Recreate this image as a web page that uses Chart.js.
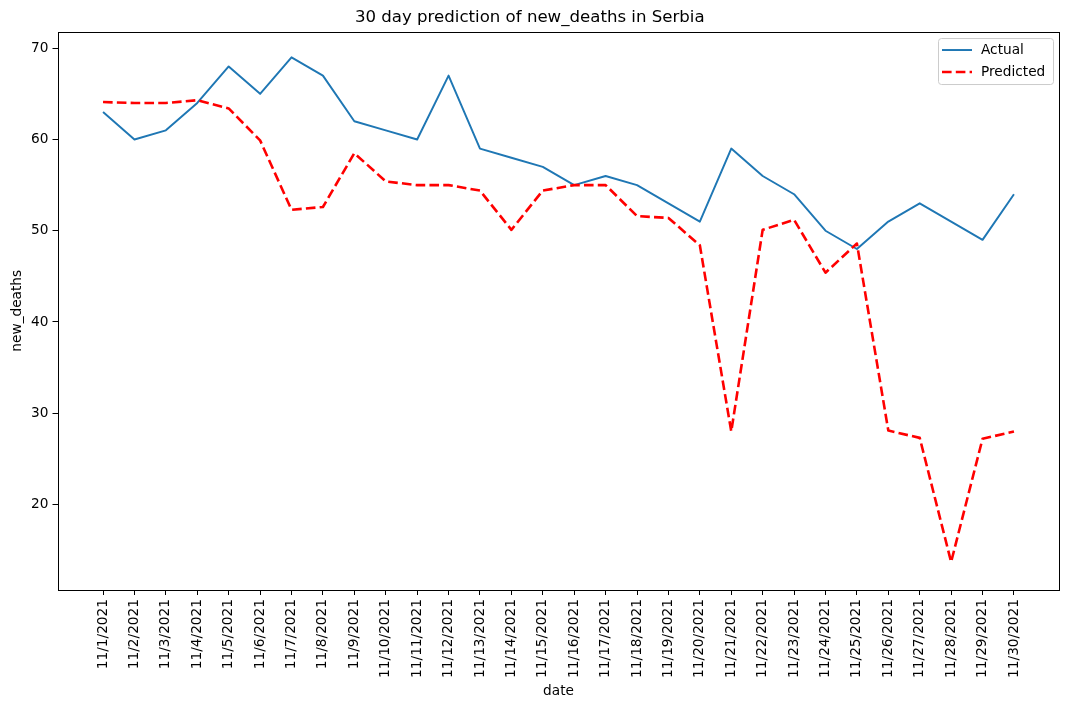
<!DOCTYPE html>
<html><head><meta charset="utf-8">
<script src="https://cdn.jsdelivr.net/npm/chart.js@4.4.1/dist/chart.umd.min.js"></script>
<style>html,body{margin:0;padding:0;background:#fff;}#wrap{width:1070px;height:709px;}</style>
</head><body><div id="wrap"><canvas id="c" style="width:1070px;height:709px"></canvas></div>
<script>
const dates = ["11/1/2021","11/2/2021","11/3/2021","11/4/2021","11/5/2021","11/6/2021","11/7/2021","11/8/2021","11/9/2021","11/10/2021",
  "11/11/2021","11/12/2021","11/13/2021","11/14/2021","11/15/2021","11/16/2021","11/17/2021","11/18/2021","11/19/2021","11/20/2021",
  "11/21/2021","11/22/2021","11/23/2021","11/24/2021","11/25/2021","11/26/2021","11/27/2021","11/28/2021","11/29/2021","11/30/2021"];
const actual = [63,60,61,64,68,65,69,67,62,61,60,67,59,58,57,55,56,55,53,51,59,56,54,50,48,51,53,51,49,54];
const predicted = [64.1,64.0,64.0,64.3,63.4,59.9,52.3,52.6,58.5,55.4,55.0,55.0,54.4,50.1,54.4,55.0,55.0,51.6,51.4,48.4,28.0,50.1,51.2,45.4,48.6,28.1,27.3,13.7,27.2,28.0];
const yTicks = [20,30,40,50,60,70];
const titleText = "30 day prediction of new_deaths in Serbia";
const xLabel = "date";
const yLabel = "new_deaths";

const FONT = "'DejaVu Sans', sans-serif";
const SMALL = 13.7;
const BIG = 16.6;

const framePlugin = {
  id: 'frame',
  afterDatasetsDraw(chart) {
    const {ctx, chartArea: a} = chart;
    ctx.save();
    ctx.strokeStyle = '#000';
    ctx.lineWidth = 1;
    ctx.setLineDash([]);
    ctx.strokeRect(Math.round(a.left) + 0.5, Math.round(a.top) + 0.5, Math.round(a.right - a.left) - 1, Math.round(a.bottom - a.top));
    ctx.restore();
  }
};

const legendPlugin = {
  id: 'mplLegend',
  afterDraw(chart) {
    const {ctx, chartArea: a} = chart;
    const w = 115, h = 46;
    const x = a.right - 6.5 - w, y = a.top + 6.5;
    ctx.save();
    ctx.fillStyle = 'rgba(255,255,255,0.8)';
    ctx.strokeStyle = '#cccccc';
    ctx.lineWidth = 1;
    ctx.beginPath();
    ctx.roundRect(x + 0.5, y + 0.5, w, h, 3);
    ctx.fill();
    ctx.stroke();
    ctx.font = SMALL + "px " + FONT;
    ctx.textBaseline = 'middle';
    ctx.fillStyle = '#000';
    chart.data.datasets.forEach((ds, i) => {
      const cy = y + 12 + i * 22;
      ctx.strokeStyle = ds.borderColor;
      ctx.lineWidth = ds.borderWidth;
      ctx.setLineDash(ds.borderDash || []);
      ctx.beginPath();
      ctx.moveTo(x + 4, cy);
      ctx.lineTo(x + 34, cy);
      ctx.stroke();
      ctx.setLineDash([]);
      ctx.fillText(ds.label, x + 43, cy);
    });
    ctx.restore();
  }
};

new Chart(document.getElementById('c'), {
  type: 'line',
  data: {
    datasets: [
      {label: 'Actual', data: actual.map((v, i) => ({x: i, y: v})), borderColor: '#1f77b4', borderWidth: 1.95,
       pointRadius: 0, tension: 0, fill: false, order: 1, borderJoinStyle: 'round'},
      {label: 'Predicted', data: predicted.map((v, i) => ({x: i, y: v})), borderColor: '#ff0000', borderWidth: 2.6,
       borderDash: [9.6, 4.2], pointRadius: 0, tension: 0, fill: false, order: 0, borderJoinStyle: 'round'}
    ]
  },
  options: {
    responsive: false,
    animation: false,
    layout: {padding: {left: 0, right: 10.5, top: 0, bottom: 0}},
    plugins: {
      legend: {display: false},
      tooltip: {enabled: false},
      title: {display: true, text: titleText, color: '#000',
        font: {family: FONT, size: BIG, weight: 'normal'}, padding: {top: 8, bottom: 3.6}}
    },
    scales: {
      x: {
        type: 'linear', min: -1.45, max: 30.45,
        afterBuildTicks: (s) => { s.ticks = dates.map((_, i) => ({value: i})); },
        afterFit: (s) => { s.height = 119; },
        border: {display: false},
        grid: {drawOnChartArea: false, drawTicks: true, tickLength: 5, color: '#000', lineWidth: 1},
        ticks: {autoSkip: false, minRotation: 90, maxRotation: 90, padding: 4, color: '#000',
          font: {family: FONT, size: SMALL}, callback: (v) => dates[v]},
        title: {display: true, text: xLabel, color: '#000', font: {family: FONT, size: SMALL}, padding: {top: 0, bottom: 9.8}}
      },
      y: {
        min: 10.63, max: 71.83,
        afterBuildTicks: (s) => { s.ticks = yTicks.map(v => ({value: v})); },
        afterFit: (s) => { s.width = 57.5; },
        border: {display: false},
        grid: {drawOnChartArea: false, drawTicks: true, tickLength: 5, color: '#000', lineWidth: 1},
        ticks: {padding: 4, color: '#000', font: {family: FONT, size: SMALL}},
        title: {display: true, text: yLabel, color: '#000', font: {family: FONT, size: SMALL}, padding: {top: 8.8, bottom: 0}}
      }
    }
  },
  plugins: [framePlugin, legendPlugin]
});
</script>
</body></html>
